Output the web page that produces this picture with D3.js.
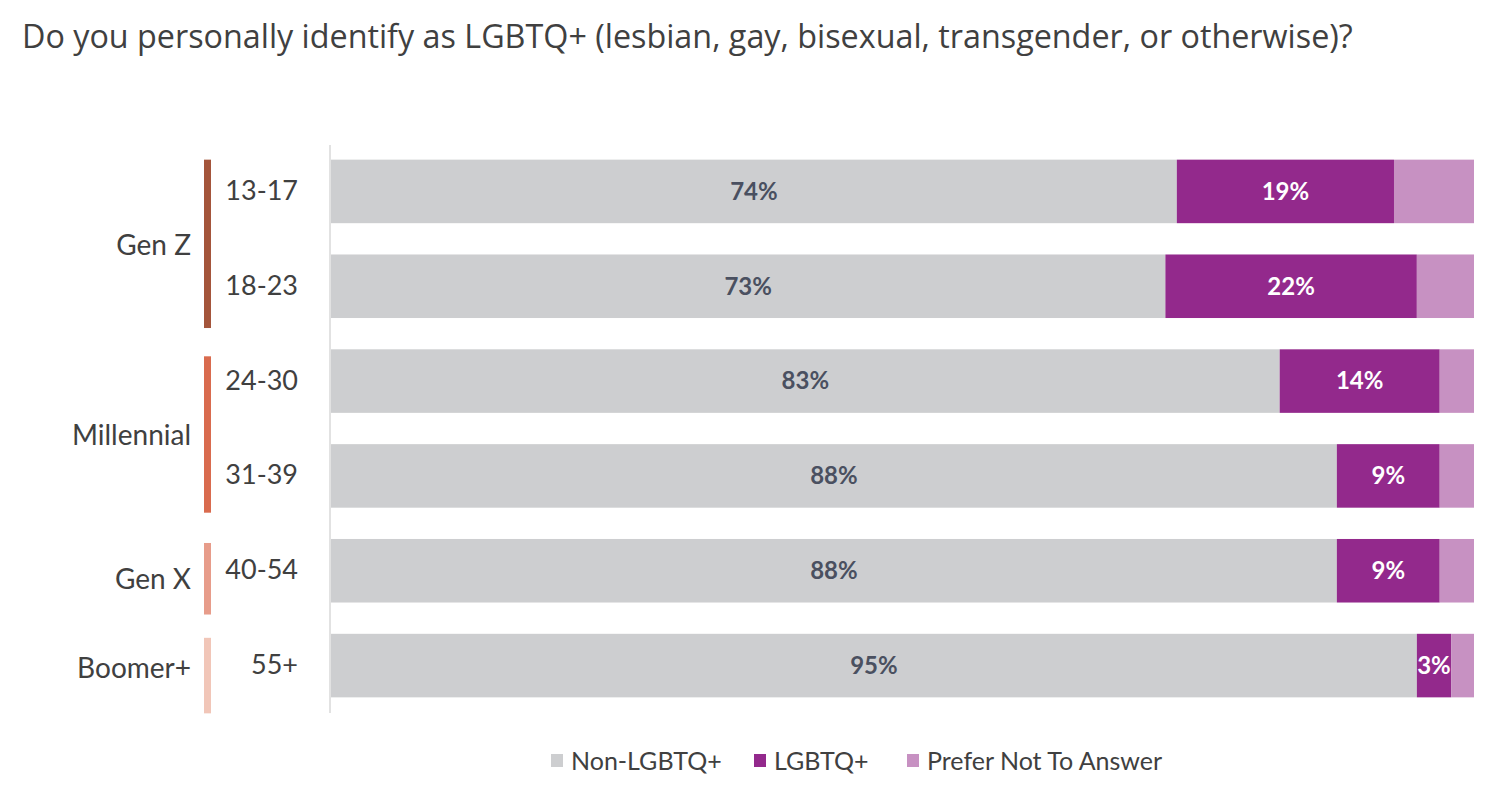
<!doctype html>
<html>
<head>
<meta charset="UTF-8">
<style>
  body { margin: 0; background: #fff; }
  text { font-family: Lato, "Open Sans", sans-serif; }
</style>
</head>
<body>
<svg id="chart" width="1500" height="797"></svg>
<script src="https://d3js.org/d3.v7.min.js"></script>
<script>
// data
var ages = ["13-17", "18-23", "24-30", "31-39", "40-54", "55+"];
var nonLgbtq = [74, 73, 83, 88, 88, 95];
var lgbtq = [19, 22, 14, 9, 9, 3];
var preferNot = [7, 5, 3, 3, 3, 2];
var seriesNames = ["Non-LGBTQ+", "LGBTQ+", "Prefer Not To Answer"];
var generations = ["Gen Z", "Millennial", "Gen X", "Boomer+"];
var genAges = [["13-17", "18-23"], ["24-30", "31-39"], ["40-54"], ["55+"]];

var colors = ["#cdced0", "#93298c", "#c791c2"];
var genColors = ["#a4553b", "#d96b4e", "#e79c8a", "#f1c6b8"];
var labelColors = ["#4a5060", "#ffffff", null];
// bracket extents relative to the bands (top shift, bottom extension)
var genTop = [0, 7, 4, 4];
var genBot = [10, 5, 12, 16];
var genLabelShift = [6, 7, 8, 3];

var svg = d3.select("#chart");

svg.append("text")
    .attr("x", 22).attr("y", 48)
    .attr("font-size", 32.3)
    .attr("fill", "#404040")
    .style("font-family", "'Open Sans', sans-serif")
    .text("Do you personally identify as LGBTQ+ (lesbian, gay, bisexual, transgender, or otherwise)?");

var rows = ages.map(function (a, i) {
    return { age: a, s0: nonLgbtq[i], s1: lgbtq[i], s2: preferNot[i] };
});

var x = d3.scaleLinear().domain([0, 100]).range([331, 1474]);
var y = d3.scaleBand().domain(ages).range([144, 713])
    .paddingInner(0.33).paddingOuter(0.165);

var stack = d3.stack().keys(["s0", "s1", "s2"]);
var layers = stack(rows);

// axis line
svg.append("line")
    .attr("x1", 330).attr("x2", 330)
    .attr("y1", 145).attr("y2", 713)
    .attr("stroke", "#d9d9d9").attr("stroke-width", 1.5);

var g = svg.append("g");
layers.forEach(function (layer, k) {
    g.selectAll(".bar" + k)
        .data(layer)
        .enter().append("rect")
        .attr("x", function (d) { return x(d[0]); })
        .attr("y", function (d) { return y(d.data.age); })
        .attr("width", function (d) { return x(d[1]) - x(d[0]); })
        .attr("height", y.bandwidth())
        .attr("fill", colors[k]);

    if (labelColors[k]) {
        g.selectAll(".lab" + k)
            .data(layer)
            .enter().append("text")
            .attr("x", function (d) { return (x(d[0]) + x(d[1])) / 2; })
            .attr("y", function (d) { return y(d.data.age) + y.bandwidth() / 2; })
            .attr("dy", "0.35em")
            .attr("text-anchor", "middle")
            .attr("font-size", 24)
            .attr("font-weight", "bold")
            .attr("fill", labelColors[k])
            .text(function (d) { return (d[1] - d[0]) + "%"; });
    }
});

// age labels
svg.selectAll(".age")
    .data(ages)
    .enter().append("text")
    .attr("x", 298)
    .attr("y", function (d) { return y(d) + y.bandwidth() / 2 - 1; })
    .attr("dy", "0.35em")
    .attr("text-anchor", "end")
    .attr("font-size", 27)
    .attr("fill", "#404040")
    .text(function (d) { return d; });

// generation brackets
generations.forEach(function (gen, i) {
    var list = genAges[i];
    var first = y(list[0]);
    var last = y(list[list.length - 1]) + y.bandwidth();
    svg.append("rect")
        .attr("x", 204).attr("width", 7)
        .attr("y", first + genTop[i]).attr("height", last + genBot[i] - first - genTop[i])
        .attr("fill", genColors[i]);
    svg.append("text")
        .attr("x", 191)
        .attr("y", (first + last) / 2 + genLabelShift[i])
        .attr("dy", "0.35em")
        .attr("text-anchor", "end")
        .attr("font-size", 28)
        .attr("fill", "#404040")
        .text(gen);
});

// legend
var legX = [551, 754, 907];
seriesNames.forEach(function (name, k) {
    svg.append("rect")
        .attr("x", legX[k]).attr("y", 754)
        .attr("width", 12).attr("height", 13)
        .attr("fill", colors[k]);
    svg.append("text")
        .attr("x", legX[k] + 20).attr("y", 761)
        .attr("dy", "0.35em")
        .attr("font-size", 25)
        .attr("fill", "#404040")
        .text(name);
});
</script>
</body>
</html>
